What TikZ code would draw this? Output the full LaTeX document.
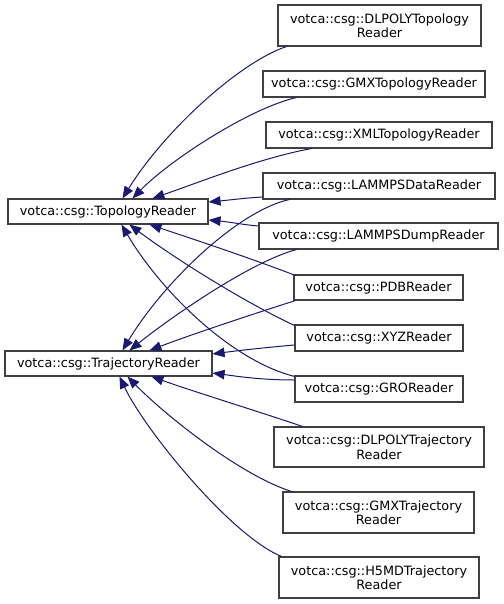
\documentclass[tikz,border=0pt]{standalone}
\usepackage{fontspec}
\setmainfont{DejaVu Sans}
\usetikzlibrary{arrows.meta}
\definecolor{edgeblue}{HTML}{191970}
\definecolor{boxgray}{HTML}{404040}
\begin{document}
\begin{tikzpicture}[x=1bp,y=-1bp,
  cls/.style={draw=boxgray,line width=1.1bp,fill=white,inner sep=0pt,align=center,
    font=\fontsize{12.8bp}{14.5bp}\selectfont},
  edge/.style={draw=edgeblue,line width=1bp,-{Triangle[length=12bp,width=9.5bp]},fill=none},
]
\useasboundingbox (0,0) rectangle (504,604);
\node[cls,minimum width=200bp,minimum height=25bp] (topo) at (108,211.5) {votca::csg::TopologyReader};
\node[cls,minimum width=207bp,minimum height=25bp] (traj) at (108.5,363.5) {votca::csg::TrajectoryReader};
\node[cls,minimum width=203bp,minimum height=41bp] (dlpt) at (379.5,25.5) {votca::csg::DLPOLYTopology\\Reader};
\node[cls,minimum width=222bp,minimum height=26bp] (gmxt) at (374,84) {votca::csg::GMXTopologyReader};
\node[cls,minimum width=226bp,minimum height=26bp] (xmlt) at (379,135) {votca::csg::XMLTopologyReader};
\node[cls,minimum width=232bp,minimum height=26bp] (lmpd) at (379,186) {votca::csg::LAMMPSDataReader};
\node[cls,minimum width=239bp,minimum height=26bp] (lmpu) at (378.5,236) {votca::csg::LAMMPSDumpReader};
\node[cls,minimum width=169bp,minimum height=25bp] (pdb) at (378.5,287.5) {votca::csg::PDBReader};
\node[cls,minimum width=168bp,minimum height=26bp] (xyz) at (379,338) {votca::csg::XYZReader};
\node[cls,minimum width=168bp,minimum height=26bp] (gro) at (379,389) {votca::csg::GROReader};
\node[cls,minimum width=210bp,minimum height=40bp] (dltr) at (379,447) {votca::csg::DLPOLYTrajectory\\Reader};
\node[cls,minimum width=191bp,minimum height=41bp] (gmtr) at (378.5,512.5) {votca::csg::GMXTrajectory\\Reader};
\node[cls,minimum width=200bp,minimum height=41bp] (h5tr) at (379,577.5) {votca::csg::H5MDTrajectory\\Reader};
% edges to TopologyReader
\draw[edge] ([xshift=9bp]dlpt.south west) .. controls (240,62) and (165,130) .. ([xshift=115bp]topo.north west);
\draw[edge] ([xshift=34bp]gmxt.south west) .. controls (250,108) and (170,160) .. ([xshift=125bp]topo.north west);
\draw[edge] ([xshift=46bp]xmlt.south west) .. controls (260,158) and (200,182) .. ([xshift=145bp]topo.north west);
\draw[edge] ([yshift=-11bp]lmpd.west) .. controls (245,198) and (230,200) .. ([yshift=9.5bp]topo.east);
\draw[edge] ([yshift=10bp]lmpu.west) .. controls (245,225) and (230,222) .. ([yshift=-8.5bp]topo.east);
\draw[edge] ([xshift=2bp,yshift=-1bp]pdb.north west) .. controls (250,258) and (190,238) .. ([xshift=142bp]topo.south west);
\draw[edge] ([yshift=-1bp]xyz.north west) .. controls (240,300) and (170,255) .. ([xshift=122bp]topo.south west);
\draw[edge] ([yshift=-1bp]gro.north west) .. controls (230,360) and (160,290) .. ([xshift=114bp]topo.south west);
% edges to TrajectoryReader
\draw[edge] ([xshift=27bp]lmpd.south west) .. controls (240,210) and (165,280) .. ([xshift=118bp]traj.north west);
\draw[edge] ([xshift=38bp]lmpu.south west) .. controls (250,262) and (170,318) .. ([xshift=125bp]traj.north west);
\draw[edge] ([xshift=2bp]pdb.south west) .. controls (250,315) and (190,335) .. ([xshift=145bp]traj.north west);
\draw[edge] ([yshift=-7bp]xyz.west) .. controls (260,348) and (235,351) .. ([yshift=9.5bp]traj.east);
\draw[edge] ([yshift=9bp]gro.west) .. controls (260,380) and (235,376) .. ([yshift=-9.5bp]traj.east);
\draw[edge] ([xshift=29bp]dltr.north west) .. controls (260,412) and (195,392) .. ([xshift=147bp]traj.south west);
\draw[edge] ([xshift=9bp]gmtr.north west) .. controls (240,475) and (165,415) .. ([xshift=123bp]traj.south west);
\draw[edge] ([xshift=3bp]h5tr.north west) .. controls (230,535) and (145,430) .. ([xshift=115bp]traj.south west);
\end{tikzpicture}
\end{document}
